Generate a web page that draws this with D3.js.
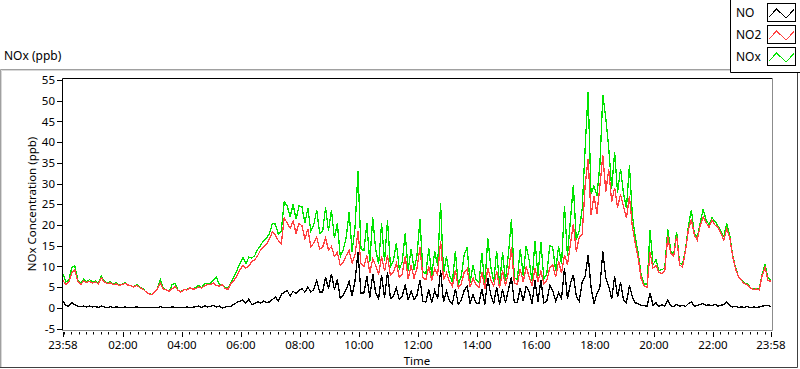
<!DOCTYPE html>
<html>
<head>
<meta charset="utf-8">
<script src="https://cdn.jsdelivr.net/npm/d3@7"></script>
<style>
body { margin: 0; background: #fff; }
text { font-family: "Noto Sans", sans-serif; font-size: 11.5px; fill: #000; }
</style>
</head>
<body>
<div id="chart"></div>
<script>
// readings every 6 minutes, 23:58 -> 23:58 next day
var stepMinutes = 6;

var no = [
  1.6,0.5,0.4,1.2,0.7,0.4,0.3,0.4,0.2,0.4,
  0.2,0.3,0.1,0.4,0.2,0.0,0.3,0.1,0.2,0.1,
  0.0,0.2,0.1,0.0,0.1,0.2,0.0,0.1,0.0,0.1,
  0.0,0.1,0.0,0.3,0.0,0.1,0.0,0.2,0.1,0.0,
  0.1,0.0,0.2,0.0,0.1,0.3,0.4,0.1,0.5,0.2,
  0.3,0.6,0.2,0.4,-0.1,0.2,0.3,0.4,0.9,1.3,
  1.6,1.9,1.1,2.1,0.8,1.0,1.5,1.1,1.7,1.3,
  1.4,2.0,2.6,1.6,3.2,3.8,4.2,2.8,4.0,3.4,
  4.2,4.6,3.8,5.0,3.8,4.4,6.6,3.8,3.8,7.4,
  4.6,8.2,4.4,6.8,2.2,3.0,4.4,6.4,2.8,6.6,
  13.5,3.6,3.6,7.6,2.4,8.2,3.6,2.2,8.0,2.4,
  8.6,2.2,2.8,4.8,2.0,2.8,5.6,2.0,4.0,2.0,
  3.0,6.8,1.6,1.4,4.4,1.2,4.2,2.2,9.0,1.4,
  4.0,1.6,1.0,4.6,0.8,1.8,4.2,5.2,1.0,3.2,
  1.2,1.0,4.6,0.8,7.2,3.2,1.0,5.0,0.8,4.4,
  1.2,4.4,7.4,1.2,1.2,4.8,1.6,5.2,4.0,1.0,
  6.6,1.4,6.8,1.2,1.6,5.4,4.2,1.6,3.6,2.2,
  9.6,2.2,5.8,8.0,2.8,1.6,6.2,7.6,12.8,4.9,
  1.0,3.4,5.0,13.6,7.2,5.2,2.2,7.6,2.6,6.2,
  1.8,1.2,5.4,2.6,1.2,1.0,0.6,0.5,0.4,3.6,
  0.6,1.2,0.3,0.8,0.4,1.9,0.5,0.3,0.8,0.4,
  0.6,0.3,1.0,1.4,0.4,0.5,0.8,1.0,0.6,0.7,
  0.5,0.9,0.4,0.6,0.8,1.4,0.5,0.2,0.3,0.1,
  0.2,0.1,0.3,0.0,0.2,0.1,0.2,0.4,0.5,0.6,0.3
];

var no2 = [
  6.5,5.7,6.3,8.4,9.1,6.4,5.6,6.5,6.1,6.4,
  6.0,6.2,5.8,7.3,6.2,5.9,6.0,5.6,5.8,5.4,
  5.6,5.9,5.5,5.3,5.0,5.4,4.9,4.6,3.9,3.4,
  3.2,3.8,4.6,6.0,4.6,4.3,4.0,4.6,5.1,4.2,
  3.8,4.4,4.3,4.8,4.5,4.6,5.0,4.8,5.3,5.6,
  5.6,6.0,5.4,5.2,5.6,4.6,4.5,5.9,6.6,7.8,
  9.2,10.2,9.6,10.1,11.2,11.6,12.6,14.0,14.6,15.4,
  16.6,18.4,17.6,16.2,15.4,21.8,20.4,19.2,21.0,18.0,
  20.4,19.8,16.6,19.0,14.8,15.6,17.0,14.2,14.6,16.8,
  14.0,14.8,12.4,13.4,10.2,11.0,12.6,13.8,10.8,12.8,
  18.5,10.6,10.0,12.6,8.4,11.8,10.2,8.2,12.4,8.8,
  12.6,7.8,8.6,10.8,7.4,8.2,12.4,7.0,10.2,7.2,
  9.6,14.6,7.2,6.8,10.0,6.6,9.4,8.0,16.2,6.8,
  8.4,6.4,5.2,9.0,4.8,5.8,8.6,9.4,5.0,7.2,
  5.6,5.0,8.6,4.6,9.6,6.8,5.2,8.8,4.8,9.0,
  5.4,8.6,14.6,6.0,5.6,9.4,6.2,9.8,7.6,5.4,
  9.6,6.4,8.8,5.8,6.6,9.6,10.4,7.4,11.2,8.4,
  12.8,10.4,15.4,20.2,13.6,17.0,17.8,29.5,36.0,22.5,
  27.0,22.6,29.5,36.8,28.0,33.4,25.6,29.0,24.2,27.4,
  24.4,21.6,27.0,19.6,15.4,12.0,7.0,5.2,5.0,13.4,
  9.6,10.2,8.6,8.2,9.0,17.2,13.2,12.4,17.4,10.4,
  9.8,13.8,18.8,21.4,17.6,16.4,19.8,22.0,20.6,19.4,
  21.2,20.0,19.4,18.0,16.4,19.0,17.0,12.4,9.4,7.4,
  6.6,5.8,5.6,4.8,4.4,4.6,4.3,7.8,9.8,6.6,6.4
];

var nox = [
  8.2,6.2,6.8,9.7,10.1,6.8,5.9,6.9,6.3,6.8,
  6.2,6.5,5.9,7.7,6.4,5.9,6.3,5.7,6.0,5.5,
  5.6,6.1,5.6,5.3,5.1,5.6,4.9,4.7,3.9,3.5,
  3.2,3.9,4.6,6.9,4.6,4.4,4.0,5.6,5.9,4.2,
  3.9,4.4,4.5,4.8,4.6,4.9,5.4,4.9,5.8,5.8,
  5.9,6.6,7.4,5.6,5.5,4.8,4.8,6.3,7.5,9.1,
  10.8,12.1,10.7,12.2,12.0,12.6,14.1,15.1,16.3,16.7,
  18.0,20.4,20.2,17.8,18.6,25.6,24.6,22.0,25.0,21.4,
  24.6,24.4,20.4,24.0,18.6,20.0,23.6,18.0,18.4,24.2,
  18.6,23.6,16.8,20.4,12.4,14.0,17.0,23.0,13.6,19.4,
  33.0,14.2,13.8,20.4,11.0,21.8,14.0,10.6,20.4,11.2,
  21.2,10.0,11.4,15.6,9.4,11.0,18.0,9.0,14.2,9.2,
  12.6,21.4,8.8,8.2,14.4,7.8,13.6,10.2,25.2,8.2,
  12.4,8.0,6.2,13.6,5.6,7.6,12.8,14.6,6.0,10.4,
  6.8,6.0,13.2,5.4,16.8,10.0,6.2,13.8,5.6,13.4,
  6.6,13.0,21.4,7.2,6.8,14.2,7.8,15.0,11.6,6.4,
  16.2,7.8,15.8,7.0,8.2,15.0,14.6,9.0,14.8,10.6,
  24.6,12.6,21.2,29.6,16.4,18.6,24.0,38.6,52.0,27.4,
  29.4,27.0,34.6,51.4,45.8,38.6,28.8,37.6,27.8,33.6,
  27.6,24.0,34.4,22.4,17.0,13.2,7.8,5.8,5.6,18.8,
  10.4,11.6,9.0,9.2,9.6,19.0,13.8,12.8,18.4,10.8,
  10.4,14.1,19.8,23.6,18.0,16.9,20.6,23.8,21.2,20.1,
  21.7,20.9,19.8,18.6,17.2,20.4,17.5,12.6,9.7,7.5,
  6.8,5.9,5.9,4.8,4.6,4.7,4.5,8.2,10.4,7.2,6.7
];

var yTicks = [-5, 0, 5, 10, 15, 20, 25, 30, 35, 40, 45, 50, 55];
var xTickLabels = ["23:58", "02:00", "04:00", "06:00", "08:00", "10:00", "12:00",
                   "14:00", "16:00", "18:00", "20:00", "22:00", "23:58"];
var seriesNames = ["NO", "NO2", "NOx"];
var seriesColors = ["#000000", "#ff4040", "#00e400"];

var W = 800, H = 369;
var plot = {left: 62, right: 772, top: 78, bottom: 330};

var svg = d3.select("#chart").append("svg")
  .attr("width", W).attr("height", H);

var start = new Date(2020, 0, 1, 23, 58);
var end = new Date(2020, 0, 2, 23, 58);

var x = d3.scaleTime().domain([start, end]).range([63, 771]);
var y = d3.scaleLinear().domain([-5, 55]).range([328.5, 80]);

// outer frame
svg.append("path").attr("d", "M0.5,368 V69.5 H730").attr("fill", "none").attr("stroke", "#a0a0a0");
svg.append("path").attr("d", "M1.5,368 V70.5 H730").attr("fill", "none").attr("stroke", "#d8d8d8");
svg.append("path").attr("d", "M0,367.5 H797.5 V72").attr("fill", "none").attr("stroke", "#404040");

svg.append("text").attr("x", 4).attr("y", 60).style("font-size", "12px").text("NOx (ppb)");

// plot frame
svg.append("path").attr("d", "M" + (plot.left + 0.5) + "," + plot.bottom + " V" + (plot.top + 0.5) + " H" + plot.right)
  .attr("fill", "none").attr("stroke", "#000");
svg.append("path").attr("d", "M" + plot.left + "," + (plot.bottom + 0.5) + " H" + (plot.right + 0.5) + " V" + plot.top)
  .attr("fill", "none").attr("stroke", "#8c8c8c");

// y axis
var yAxis = svg.append("g");
yAxis.selectAll("line").data(yTicks).enter().append("line")
  .attr("x1", 57).attr("x2", 62)
  .attr("y1", function(d) { return Math.round(y(d)) + 0.5; })
  .attr("y2", function(d) { return Math.round(y(d)) + 0.5; })
  .attr("stroke", "#000");
yAxis.selectAll("text").data(yTicks).enter().append("text")
  .attr("x", 55).attr("y", function(d) { return y(d); })
  .attr("dy", "0.36em").attr("text-anchor", "end")
  .text(function(d) { return d; });

svg.append("text")
  .attr("transform", "translate(36," + ((plot.top + plot.bottom) / 2) + ") rotate(-90)")
  .attr("text-anchor", "middle")
  .text("NOx Concentration (ppb)");

// x axis
var xTickDates = xTickLabels.map(function(s, i) {
  if (i === 0) return start;
  if (i === xTickLabels.length - 1) return end;
  var p = s.split(":");
  return new Date(2020, 0, 2, +p[0], +p[1]);
});
var minorTicks = d3.timeMinute.every(15).range(start, end);

svg.append("g").selectAll("line").data(minorTicks).enter().append("line")
  .attr("x1", function(d) { return Math.round(x(d)) + 0.5; })
  .attr("x2", function(d) { return Math.round(x(d)) + 0.5; })
  .attr("y1", 332).attr("y2", 334.5)
  .attr("stroke", "#000");
svg.append("g").selectAll("line").data(xTickDates).enter().append("line")
  .attr("x1", function(d) { return Math.round(x(d)) + 0.5; })
  .attr("x2", function(d) { return Math.round(x(d)) + 0.5; })
  .attr("y1", 332).attr("y2", 337)
  .attr("stroke", "#000");
svg.append("g").selectAll("text").data(xTickDates).enter().append("text")
  .attr("x", function(d) { return x(d); })
  .attr("y", 349)
  .attr("text-anchor", "middle")
  .text(function(d, i) { return xTickLabels[i]; });

svg.append("text").attr("x", 417).attr("y", 365).attr("text-anchor", "middle").text("Time");

// lines
svg.append("clipPath").attr("id", "clip").append("rect")
  .attr("x", plot.left + 1).attr("y", plot.top + 1)
  .attr("width", plot.right - plot.left - 1).attr("height", plot.bottom - plot.top - 1);

function timeAt(i) { return d3.timeMinute.offset(start, i * stepMinutes); }

var line = d3.line()
  .x(function(d, i) { return x(timeAt(i)); })
  .y(function(d) { return y(d); });

var lines = svg.append("g").attr("clip-path", "url(#clip)");
[nox, no2, no].forEach(function(series, j) {
  lines.append("path")
    .attr("d", line(series))
    .attr("fill", "none")
    .attr("stroke", seriesColors[2 - j])
    .attr("stroke-width", 1.3)
    .attr("shape-rendering", "crispEdges");
});

// legend
svg.append("path").attr("d", "M730.5,0 V72.5 H800").attr("fill", "none").attr("stroke", "#000");
var leg = svg.append("g").selectAll("g").data(seriesNames).enter().append("g")
  .attr("transform", function(d, i) { return "translate(0," + (i * 22) + ")"; });
leg.append("text").attr("x", 736).attr("y", 17).style("font-size", "12px").text(function(d) { return d; });
leg.append("rect").attr("x", 767.5).attr("y", 3.5).attr("width", 28).attr("height", 18)
  .attr("fill", "#fff").attr("stroke", "#000");
leg.append("path")
  .attr("d", "M769,17 L776.5,9 L786,18 L794,9.5")
  .attr("fill", "none")
  .attr("shape-rendering", "crispEdges")
  .attr("stroke", function(d, i) { return seriesColors[i]; });
</script>
</body>
</html>
